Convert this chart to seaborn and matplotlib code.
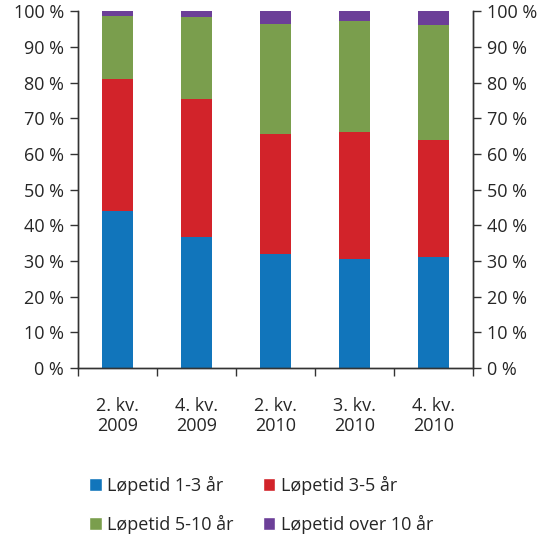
import pandas as pd
import seaborn as sns
import matplotlib.pyplot as plt
from matplotlib.patches import Patch
from matplotlib.ticker import FixedLocator

# Données (parts en %)
kvartaler = ["2. kv.\n2009", "4. kv.\n2009", "2. kv.\n2010", "3. kv.\n2010", "4. kv.\n2010"]
lop_1_3 = [44.1, 36.7, 31.9, 30.5, 31.1]
lop_3_5 = [36.9, 38.8, 33.7, 35.5, 32.8]
lop_5_10 = [17.7, 22.8, 30.8, 31.2, 32.2]
lop_over_10 = [1.3, 1.7, 3.6, 2.8, 3.9]

serier = ["Løpetid 1-3 år", "Løpetid 3-5 år", "Løpetid 5-10 år", "Løpetid over 10 år"]
farger = ["#1175bb", "#d2232a", "#7a9e4d", "#6c3f98"]

df = pd.DataFrame({"kvartal": kvartaler, serier[0]: lop_1_3, serier[1]: lop_3_5,
                   serier[2]: lop_5_10, serier[3]: lop_over_10})
cum = df[serier].cumsum(axis=1)

sns.set_style("white")
plt.rcParams['font.family'] = ['Open Sans', 'DejaVu Sans']

fig = plt.figure(figsize=(5.5, 5.34), dpi=100)
ax = fig.add_axes([0.142, 0.311, 0.718, 0.668])

# barres empilées : on dessine les cumuls du haut vers le bas
for s, c in zip(reversed(serier), reversed(farger)):
    sns.barplot(x=df["kvartal"], y=cum[s], color=c, width=0.4, ax=ax,
                saturation=1, linewidth=0)

ax.set_ylim(0, 100)
ax.set_xlim(-0.5, 4.5)
ax.set_yticks(range(0, 101, 10))
ax.set_yticklabels([f"{v} %" for v in range(0, 101, 10)])
ax.set_xlabel("")
ax.set_ylabel("")
ax.tick_params(axis="y", length=6, width=1, color="#333333", labelsize=13, pad=4)
ax.tick_params(axis="x", which="major", length=0, labelsize=13, pad=21)
for t in ax.get_xticklabels():
    t.set_linespacing(1.15)
ax.xaxis.set_minor_locator(FixedLocator([-0.5, 0.5, 1.5, 2.5, 3.5, 4.5]))
ax.tick_params(axis="x", which="minor", length=6, width=1, color="#333333", bottom=True)

ax2 = ax.twinx()
ax2.set_ylim(0, 100)
ax2.set_yticks(range(0, 101, 10))
ax2.set_yticklabels([f"{v} %" for v in range(0, 101, 10)])
ax2.tick_params(axis="y", length=6, width=1, color="#333333", labelsize=13, pad=4)

for a in (ax, ax2):
    a.spines["top"].set_visible(False)
    for sp in ("left", "right", "bottom"):
        a.spines[sp].set_color("#333333")
        a.spines[sp].set_linewidth(1)

# ordre ligne par ligne comme dans l'original
rekkefolge = [0, 2, 1, 3]
handles = [Patch(facecolor=farger[i], label=serier[i]) for i in rekkefolge]
fig.legend(handles=handles, loc="lower left", bbox_to_anchor=(0.133, -0.03), ncol=2,
           frameon=False, fontsize=13, handlelength=0.7, handleheight=0.7,
           handletextpad=0.3, columnspacing=1.6, labelspacing=1.1)

fig.savefig("out.png", dpi=100)
